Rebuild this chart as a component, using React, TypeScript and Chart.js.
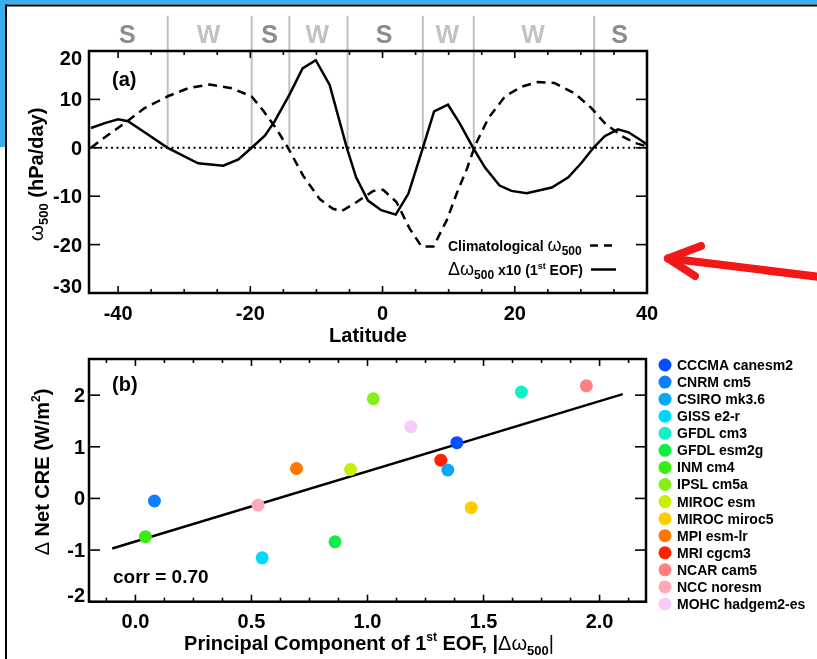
import React, { useEffect, useRef } from 'react';
import { Chart, registerables } from 'chart.js';

Chart.register(...registerables);

// ---------- Panel (a) data ----------
const solidLat = [-44.1, -42, -40, -38.5, -36, -32.5, -27.9, -24.1, -21.8, -19.8, -17.8, -16.3, -14, -12.1, -10.1, -8, -5.4, -4, -2.2, -0.2, 2, 3.9, 6.1, 7.8, 9.9, 11.7, 13.7, 15.5, 17.7, 19.5, 21.8, 25.6, 28.1, 30.1, 31.9, 33.6, 35.6, 37.2, 38.9, 40];
const solidVal = [4.1, 5.1, 5.9, 5.5, 3.2, 0, -3.2, -3.7, -2.4, 0, 2.5, 5.5, 11.2, 16.4, 18.1, 13.0, 0, -6.1, -10.9, -12.9, -13.8, -9.5, 0, 7.5, 8.9, 5.0, 0, -4.1, -7.8, -8.9, -9.4, -8.2, -6.1, -3.1, 0, 2.4, 3.8, 3.2, 1.7, 0.7];
const climLat = [-44.1, -42, -39, -36, -32.4, -29.4, -26.1, -22.8, -19.8, -18, -16, -14.3, -12, -9.5, -7.5, -6.2, -3.9, -1.4, 0.1, 2.1, 4.1, 5.9, 7.7, 9.7, 11.2, 12.8, 14, 16, 18.5, 21, 23.5, 26, 29.1, 31.6, 33.6, 36.2, 38.2, 40];
const climVal = [0, 2.2, 5.1, 8.2, 10.7, 12.3, 13.1, 12.3, 10.6, 7.6, 3.8, 0, -5.8, -10.6, -12.6, -13.1, -11.2, -8.9, -8.7, -11.2, -16.7, -20.4, -20.4, -15, -9.5, -4.2, 0.5, 6.1, 10.6, 12.6, 13.6, 13.4, 11.2, 8.2, 5.1, 2.4, 1.0, 0.3];
const regimeEdges = [-32.5, -19.8, -14.1, -5.3, 6.1, 13.8, 32.0];
const regimeLabels = ['S', 'W', 'S', 'W', 'S', 'W', 'W', 'S'];
const latTicks = [-40, -20, 0, 20, 40];
const omegaTicks = [-30, -20, -10, 0, 10, 20];

// ---------- Panel (b) data ----------
const models = ['CCCMA canesm2', 'CNRM cm5', 'CSIRO mk3.6', 'GISS e2-r', 'GFDL cm3', 'GFDL esm2g', 'INM cm4', 'IPSL cm5a', 'MIROC esm', 'MIROC miroc5', 'MPI esm-lr', 'MRI cgcm3', 'NCAR cam5', 'NCC noresm', 'MOHC hadgem2-es'];
const modelColors = ['#0050ff', '#0b80ff', '#0aa8f8', '#00d8ff', '#12f0c8', '#12ee44', '#38ee10', '#88ee18', '#ccee00', '#ffcc00', '#ff7700', '#ff2200', '#ff8080', '#ffa8b8', '#f8ccf8'];
const pcValues = [1.385, 0.082, 1.346, 0.546, 1.663, 0.86, 0.043, 1.025, 0.927, 1.447, 0.694, 1.316, 1.943, 0.528, 1.187];
const creValues = [1.08, -0.05, 0.55, -1.15, 2.06, -0.84, -0.74, 1.93, 0.56, -0.18, 0.58, 0.74, 2.18, -0.13, 1.39];
const fitX = [-0.1, 2.1];
const fitY = [-0.97, 2.02];
const pcTicks = [0, 0.5, 1.0, 1.5, 2.0];
const pcTickLabels = ['0.0', '0.5', '1.0', '1.5', '2.0'];
const creTicks = [-2, -1, 0, 1, 2];

const SANS = '"Liberation Sans", Arial, Helvetica, sans-serif';
const B = (s: number) => `bold ${s}px ${SANS}`;
const R = (s: number) => `${s}px ${SANS}`;

type Seg = { t: string; f: string; dy?: number };

function segsWidth(ctx: CanvasRenderingContext2D, segs: Seg[]) {
  let w = 0;
  for (const s of segs) {
    ctx.font = s.f;
    w += ctx.measureText(s.t).width;
  }
  return w;
}

function drawSegs(ctx: CanvasRenderingContext2D, segs: Seg[], x: number, y: number, align: 'left' | 'center' | 'right') {
  const w = segsWidth(ctx, segs);
  let cx = align === 'center' ? x - w / 2 : align === 'right' ? x - w : x;
  ctx.textAlign = 'left';
  ctx.textBaseline = 'alphabetic';
  for (const s of segs) {
    ctx.font = s.f;
    ctx.fillText(s.t, cx, y + (s.dy || 0));
    cx += ctx.measureText(s.t).width;
  }
}

function seg(ctx: CanvasRenderingContext2D, x1: number, y1: number, x2: number, y2: number) {
  ctx.beginPath();
  ctx.moveTo(x1, y1);
  ctx.lineTo(x2, y2);
  ctx.stroke();
}

const panelAPlugin = {
  id: 'panelA',
  beforeDatasetsDraw(chart: any) {
    const ctx = chart.ctx as CanvasRenderingContext2D;
    const ca = chart.chartArea;
    const xs = chart.scales.x;
    const ys = chart.scales.y;
    const y0 = ys.getPixelForValue(0);
    ctx.save();
    ctx.strokeStyle = '#c0c0c0';
    ctx.lineWidth = 2;
    for (const e of regimeEdges) {
      const x = xs.getPixelForValue(e);
      seg(ctx, x, 16, x, y0);
    }
    ctx.strokeStyle = '#000';
    ctx.lineWidth = 2;
    ctx.setLineDash([2, 3.5]);
    seg(ctx, ca.left, y0, ca.right, y0);
    ctx.setLineDash([]);
    ctx.restore();
  },
  afterDraw(chart: any) {
    const ctx = chart.ctx as CanvasRenderingContext2D;
    const ca = chart.chartArea;
    const xs = chart.scales.x;
    const ys = chart.scales.y;
    ctx.save();
    ctx.fillStyle = '#000';
    ctx.strokeStyle = '#000';
    ctx.lineWidth = 1.6;
    for (let v = -40; v <= 40; v += 5) {
      const x = xs.getPixelForValue(v);
      const L = v % 20 === 0 ? 7 : 4;
      seg(ctx, x, ca.bottom, x, ca.bottom - L);
      seg(ctx, x, ca.top, x, ca.top + L);
    }
    for (const v of omegaTicks) {
      const y = ys.getPixelForValue(v);
      seg(ctx, ca.left, y, ca.left + 11, y);
      seg(ctx, ca.right, y, ca.right - 11, y);
    }
    ctx.lineWidth = 2.5;
    ctx.strokeRect(ca.left, ca.top, ca.right - ca.left, ca.bottom - ca.top);
    ctx.font = B(20);
    ctx.textAlign = 'center';
    ctx.textBaseline = 'alphabetic';
    for (const v of latTicks) {
      ctx.fillText(String(v), xs.getPixelForValue(v), 320);
    }
    ctx.textAlign = 'right';
    for (const v of omegaTicks) {
      let c = ys.getPixelForValue(v);
      c = Math.min(Math.max(c, ca.top + 7), ca.bottom - 7);
      ctx.fillText(String(v), 82, c + 7);
    }
    ctx.textAlign = 'center';
    ctx.fillText('Latitude', (ca.left + ca.right) / 2, 342);
    ctx.save();
    ctx.translate(43, 174.5);
    ctx.rotate(-Math.PI / 2);
    drawSegs(ctx, [
      { t: 'ω', f: R(21) },
      { t: '500', f: B(13), dy: 5 },
      { t: ' (hPa/day)', f: B(20) },
    ], 0, 0, 'center');
    ctx.restore();
    ctx.font = B(20);
    ctx.textAlign = 'left';
    ctx.fillText('(a)', 112, 85.5);
    const bounds = [xs.min, ...regimeEdges, xs.max];
    ctx.font = B(25);
    ctx.textAlign = 'center';
    for (let i = 0; i < regimeLabels.length; i++) {
      const xa = xs.getPixelForValue(bounds[i]);
      const xb = xs.getPixelForValue(bounds[i + 1]);
      ctx.fillStyle = regimeLabels[i] === 'S' ? '#8c8c8c' : '#c2c2c2';
      ctx.fillText(regimeLabels[i], (xa + xb) / 2 - 1, 42.5);
    }
    ctx.fillStyle = '#000';
    drawSegs(ctx, [
      { t: 'Climatological ', f: B(14) },
      { t: 'ω', f: R(18) },
      { t: '500', f: B(12), dy: 4 },
    ], 448, 251, 'left');
    drawSegs(ctx, [
      { t: 'Δω', f: R(18) },
      { t: '500', f: B(12), dy: 4 },
      { t: ' x10 (1', f: B(14) },
      { t: 'st', f: B(9), dy: -6 },
      { t: ' EOF)', f: B(14) },
    ], 448, 275, 'left');
    ctx.lineWidth = 2.5;
    ctx.setLineDash([8, 6]);
    seg(ctx, 590, 245.5, 616, 245.5);
    ctx.setLineDash([]);
    seg(ctx, 591, 269.5, 616, 269.5);
    ctx.restore();
  },
};

const panelBPlugin = {
  id: 'panelB',
  afterDraw(chart: any) {
    const ctx = chart.ctx as CanvasRenderingContext2D;
    const ca = chart.chartArea;
    const xs = chart.scales.x;
    const ys = chart.scales.y;
    ctx.save();
    ctx.fillStyle = '#000';
    ctx.strokeStyle = '#000';
    ctx.lineWidth = 1.6;
    const i0 = Math.ceil(xs.min / 0.125);
    const i1 = Math.floor(xs.max / 0.125);
    for (let i = i0; i <= i1; i++) {
      const x = xs.getPixelForValue(i * 0.125);
      const L = i % 4 === 0 ? 7 : 4;
      seg(ctx, x, ca.bottom, x, ca.bottom - L);
      seg(ctx, x, ca.top, x, ca.top + L);
    }
    for (const v of creTicks) {
      const y = ys.getPixelForValue(v);
      seg(ctx, ca.left, y, ca.left + 11, y);
      seg(ctx, ca.right, y, ca.right - 11, y);
    }
    ctx.lineWidth = 2.5;
    ctx.strokeRect(ca.left, ca.top, ca.right - ca.left, ca.bottom - ca.top);
    ctx.font = B(20);
    ctx.textAlign = 'center';
    ctx.textBaseline = 'alphabetic';
    pcTicks.forEach((v, i) => ctx.fillText(pcTickLabels[i], xs.getPixelForValue(v), 283));
    ctx.textAlign = 'right';
    for (const v of creTicks) {
      let c = ys.getPixelForValue(v);
      c = Math.min(Math.max(c, ca.top + 7), ca.bottom - 7);
      ctx.fillText(String(v), 85, c + 7);
    }
    drawSegs(ctx, [
      { t: 'Principal Component of 1', f: B(20) },
      { t: 'st', f: B(12), dy: -9 },
      { t: ' EOF, |', f: B(20) },
      { t: 'Δω', f: R(20) },
      { t: '500', f: B(13), dy: 5 },
      { t: '|', f: R(20) },
    ], 369, 305, 'center');
    ctx.save();
    ctx.translate(49, 127);
    ctx.rotate(-Math.PI / 2);
    drawSegs(ctx, [
      { t: 'Δ', f: R(20) },
      { t: ' Net CRE (W/m', f: B(20) },
      { t: '2', f: B(12), dy: -9 },
      { t: ')', f: B(20) },
    ], 0, 0, 'center');
    ctx.restore();
    ctx.font = B(20);
    ctx.textAlign = 'left';
    ctx.fillText('(b)', 112, 45.5);
    ctx.font = B(19);
    ctx.fillText('corr = 0.70', 113, 238.3);
    ctx.font = B(14);
    for (let i = 0; i < models.length; i++) {
      const yy = 20 + i * 17.07;
      ctx.fillStyle = modelColors[i];
      ctx.beginPath();
      ctx.arc(665, yy, 6.5, 0, Math.PI * 2);
      ctx.fill();
      ctx.fillStyle = '#000';
      ctx.fillText(models[i], 677, yy + 5);
    }
    ctx.restore();
  },
};

export default function App() {
  const refA = useRef<HTMLCanvasElement>(null);
  const refB = useRef<HTMLCanvasElement>(null);

  useEffect(() => {
    const chartA = new Chart(refA.current!, {
      type: 'line',
      data: {
        datasets: [
          {
            data: solidLat.map((x, i) => ({ x, y: solidVal[i] })),
            borderColor: '#000',
            borderWidth: 2.5,
            pointRadius: 0,
            tension: 0,
            fill: false,
          },
          {
            data: climLat.map((x, i) => ({ x, y: climVal[i] })),
            borderColor: '#000',
            borderWidth: 2.5,
            borderDash: [9, 6],
            pointRadius: 0,
            tension: 0,
            fill: false,
          },
        ],
      },
      options: {
        responsive: false,
        maintainAspectRatio: false,
        animation: false,
        events: [],
        layout: { padding: { left: 89, top: 51, right: 170, bottom: 52 } },
        plugins: { legend: { display: false }, tooltip: { enabled: false } },
        scales: {
          x: { type: 'linear', min: -44.4, max: 40, display: false },
          y: { type: 'linear', min: -30, max: 20, display: false },
        },
      },
      plugins: [panelAPlugin],
    } as any);

    const scatterSets: any[] = models.map((m, i) => ({
      label: m,
      data: [{ x: pcValues[i], y: creValues[i] }],
      backgroundColor: modelColors[i],
      borderWidth: 0,
      pointRadius: 6.5,
      pointHoverRadius: 6.5,
      order: 1,
    }));
    scatterSets.push({
      label: 'fit',
      data: fitX.map((x, i) => ({ x, y: fitY[i] })),
      showLine: true,
      borderColor: '#000',
      borderWidth: 2.5,
      pointRadius: 0,
      order: 20,
    });

    const chartB = new Chart(refB.current!, {
      type: 'scatter',
      data: { datasets: scatterSets },
      options: {
        responsive: false,
        maintainAspectRatio: false,
        animation: false,
        events: [],
        layout: { padding: { left: 89, top: 14, right: 171, bottom: 57.3 } },
        plugins: { legend: { display: false }, tooltip: { enabled: false } },
        scales: {
          x: { type: 'linear', min: -0.2, max: 2.2, display: false },
          y: { type: 'linear', min: -2, max: 2.7, display: false },
        },
      },
      plugins: [panelBPlugin],
    } as any);

    return () => {
      chartA.destroy();
      chartB.destroy();
    };
  }, []);

  return (
    <div style={{ position: 'absolute', left: 0, top: 0, width: 817, height: 659, background: '#fff', overflow: 'hidden' }}>
      <canvas ref={refA} width={817} height={345} style={{ position: 'absolute', left: 0, top: 0 }} />
      <canvas ref={refB} width={817} height={314} style={{ position: 'absolute', left: 0, top: 345 }} />
      <svg width={817} height={659} style={{ position: 'absolute', left: 0, top: 0, pointerEvents: 'none' }}>
        <rect x={0} y={0} width={817} height={4.5} fill="#3aaee8" />
        <rect x={0} y={0} width={5} height={147} fill="#3aaee8" />
        <rect x={5} y={4.5} width={812} height={2} fill="#000" />
        <rect x={5} y={4.5} width={2} height={655} fill="#000" />
        <g stroke="#f21818" strokeWidth={8} strokeLinecap="round" fill="none">
          <line x1={820} y1={277} x2={670} y2={258.5} />
          <line x1={668} y1={258.5} x2={701} y2={246} />
          <line x1={668} y1={258.5} x2={695} y2={276} />
        </g>
      </svg>
    </div>
  );
}
